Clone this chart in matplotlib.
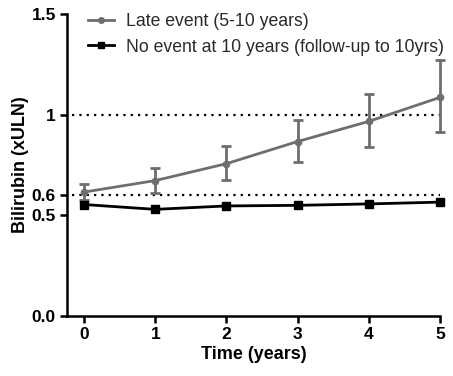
import matplotlib
matplotlib.use("Agg")
import matplotlib.pyplot as plt
from matplotlib.lines import Line2D

plt.rcParams['font.family'] = ['Liberation Sans', 'DejaVu Sans']

years = [0, 1, 2, 3, 4, 5]
late_event = [0.615, 0.672, 0.756, 0.866, 0.966, 1.085]
late_err_low = [0.04, 0.062, 0.08, 0.102, 0.125, 0.17]
late_err_high = [0.04, 0.063, 0.087, 0.107, 0.135, 0.185]
no_event = [0.553, 0.529, 0.546, 0.549, 0.556, 0.565]

series_names = ["Late event (5-10 years)", "No event at 10 years (follow-up to 10yrs)"]
ytick_vals = [0.0, 0.5, 0.6, 1.0, 1.5]
ytick_labels = ["0.0", "0.5", "0.6", "1", "1.5"]
ref_levels = [0.6, 1.0]

fig = plt.figure(figsize=(4.53, 3.76), dpi=100)
ax = fig.add_axes([0.148, 0.16, 0.823, 0.803])

gray = "#6e6e6e"
for lvl in ref_levels:
    ax.plot([-0.17, 5.0], [lvl, lvl], color="black", linestyle=(0, (1, 2.3)),
            linewidth=1.6, zorder=1)

eb = ax.errorbar(years, late_event, yerr=[late_err_low, late_err_high], color=gray,
                 marker="o", markersize=4.5, linewidth=2, elinewidth=2, capsize=3.5,
                 capthick=2, zorder=3)
for child in eb.get_children():
    child.set_clip_on(False)
ax.plot(years, no_event, color="black", marker="s", markersize=6, linewidth=2,
        zorder=4, clip_on=False)

ax.set_xlim(-0.24, 5.0)
ax.set_ylim(0, 1.5)
ax.set_xticks(years)
ax.set_xticklabels([str(y) for y in years], fontweight="bold", fontsize=12.5)
ax.set_yticks(ytick_vals)
ax.set_yticklabels(ytick_labels, fontweight="bold", fontsize=12.5)

for side in ["top", "right"]:
    ax.spines[side].set_visible(False)
for side in ["left", "bottom"]:
    ax.spines[side].set_linewidth(1.8)
ax.tick_params(axis="both", direction="out", length=5, width=1.8, pad=3)

ax.set_xlabel("Time (years)", fontweight="bold", fontsize=13, labelpad=3)
ax.set_ylabel("Bilirubin (xULN)", fontweight="bold", fontsize=13, labelpad=2)

handles = [
    Line2D([], [], color=gray, marker="o", markersize=4, linewidth=2),
    Line2D([], [], color="black", marker="s", markersize=4.5, linewidth=2),
]
leg = ax.legend(handles, series_names, loc="upper left",
                bbox_to_anchor=(0.056, 1.004), frameon=False,
                fontsize=12.7, handlelength=1.5, handletextpad=0.65,
                labelspacing=0.5, borderaxespad=0, borderpad=0)
for t in leg.get_texts():
    t.set_color("#2a2a2a")

fig.savefig("out.png", dpi=100)
